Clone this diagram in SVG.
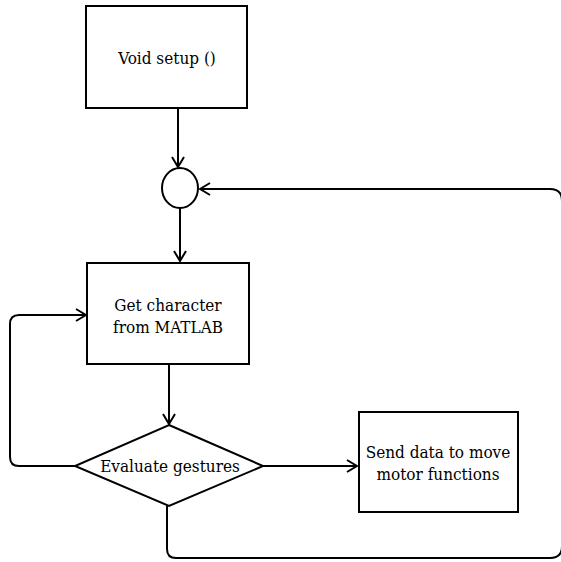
<svg xmlns="http://www.w3.org/2000/svg" width="561" height="562" viewBox="0 0 561 562">
  <defs>
    <marker id="arrow" viewBox="0 0 12 14" refX="11" refY="7" markerWidth="12" markerHeight="14" markerUnits="userSpaceOnUse" orient="auto">
      <path d="M1,1 L11,7 L1,13" fill="none" stroke="#000" stroke-width="2"/>
    </marker>
  </defs>
  <style>
    .box { fill: #fff; stroke: #000; stroke-width: 2; }
    .label { font-family: "DejaVu Serif Condensed", "DejaVu Serif", serif; font-stretch: condensed; font-size: 17px; fill: #000; text-anchor: middle; }
    .link { fill: none; stroke: #000; stroke-width: 2; }
  </style>
  <rect width="561" height="562" fill="#fff"/>

  <g id="setup">
    <rect class="box" x="86" y="6" width="161" height="102"/>
    <text class="label" x="167" y="64">Void setup ()</text>
  </g>

  <g id="junction">
    <ellipse class="box" cx="180" cy="188" rx="18" ry="20"/>
  </g>

  <g id="get-character">
    <rect class="box" x="87" y="263" width="162" height="101"/>
    <text class="label" x="168" y="311">Get character</text>
    <text class="label" x="168" y="333">from MATLAB</text>
  </g>

  <g id="evaluate">
    <polygon class="box" points="169,425 263,466 169,506 75,466"/>
    <text class="label" x="170" y="472">Evaluate gestures</text>
  </g>

  <g id="send-data">
    <rect class="box" x="359" y="412" width="159" height="100"/>
    <text class="label" x="438" y="458">Send data to move</text>
    <text class="label" x="438" y="480">motor functions</text>
  </g>

  <g id="connectors">
    <path class="link" d="M178,108 L178,167" marker-end="url(#arrow)"/>
    <path class="link" d="M180,208 L180,261" marker-end="url(#arrow)"/>
    <path class="link" d="M169,364 L169,424" marker-end="url(#arrow)"/>
    <path class="link" d="M263,466 L357,466" marker-end="url(#arrow)"/>
    <path class="link" d="M75,466 L19,466 Q10,466 10,457 L10,324 Q10,315 19,315 L86,315" marker-end="url(#arrow)"/>
    <path class="link" d="M167,506 L167,549 Q167,558 176,558 L550,558 Q562,558 562,546 L562,201 Q562,189 550,189 L200,189" marker-end="url(#arrow)"/>
  </g>
</svg>
